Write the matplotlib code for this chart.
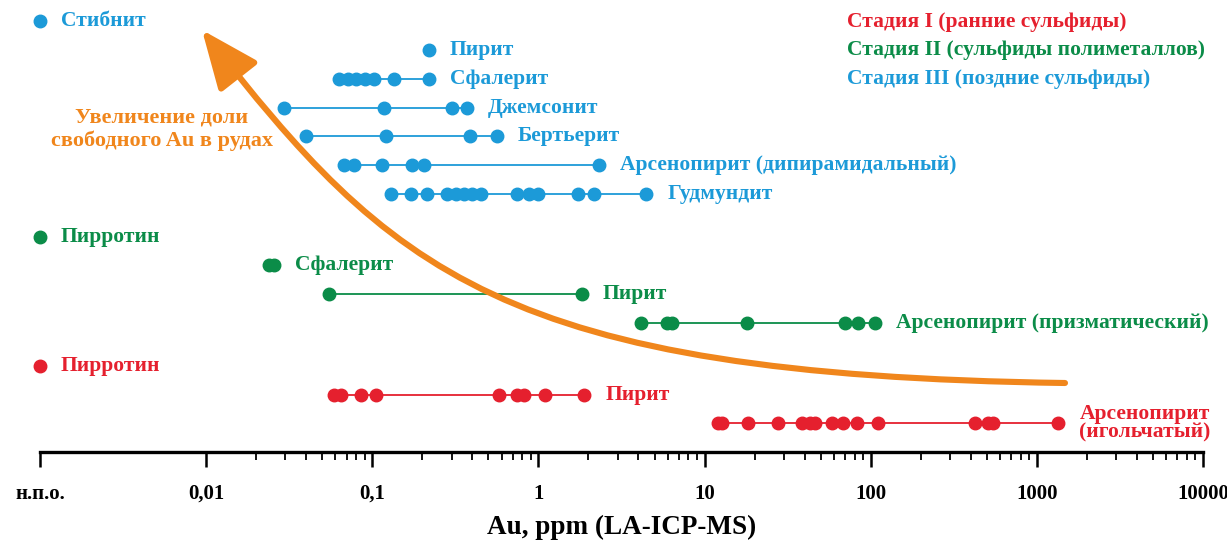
import matplotlib
matplotlib.use('Agg')
import matplotlib.pyplot as plt
from matplotlib.path import Path
from matplotlib.patches import FancyArrowPatch

plt.rcParams['font.family'] = ['Liberation Serif', 'DejaVu Serif']

# colours of the three stages
RED = '#e5202e'
GREEN = '#0b8c48'
BLUE = '#1c9ad8'
ORANGE = '#f0861c'

ND = 0.001  # "н.п.о." (below detection) sits at the left end of the axis

# stage III (blue)
blue_names = ['Стибнит', 'Пирит', 'Сфалерит', 'Джемсонит', 'Бертьерит',
              'Арсенопирит (дипирамидальный)', 'Гудмундит']
blue_levels = [15, 14, 13, 12, 11, 10, 9]
blue_values = [
    [ND],
    [0.22],
    [0.063, 0.071, 0.080, 0.091, 0.103, 0.136, 0.22],
    [0.0295, 0.118, 0.30, 0.37],
    [0.040, 0.121, 0.39, 0.56],
    [0.068, 0.078, 0.115, 0.174, 0.206, 2.33],
    [0.130, 0.172, 0.214, 0.283, 0.321, 0.358, 0.40, 0.454, 0.747, 0.88,
     0.99, 1.72, 2.17, 4.47],
]

# stage II (green)
green_names = ['Пирротин', 'Сфалерит', 'Пирит', 'Арсенопирит (призматический)']
green_levels = [7.5, 6.5, 5.5, 4.5]
green_values = [
    [ND],
    [0.0240, 0.0255],
    [0.055, 1.82],
    [4.17, 5.9, 6.4, 17.9, 69.7, 83.5, 105.7],
]

# stage I (red)
red_names = ['Пирротин', 'Пирит', 'Арсенопирит\n(игольчатый)']
red_levels = [3, 2, 1]
red_values = [
    [ND],
    [0.059, 0.065, 0.086, 0.106, 0.58, 0.74, 0.82, 1.09, 1.89],
    [12.0, 12.8, 18.2, 27.5, 38.4, 42.9, 46.0, 58.2, 67.8, 82.3, 110,
     423, 507, 543, 1340],
]

tick_vals = [0.001, 0.01, 0.1, 1, 10, 100, 1000, 10000]
tick_labels = ['н.п.о.', '0,01', '0,1', '1', '10', '100', '1000', '10000']

stage_labels = ['Стадия I (ранние сульфиды)',
                'Стадия II (сульфиды полиметаллов)',
                'Стадия III (поздние сульфиды)']
stage_colors = [RED, GREEN, BLUE]

FS = 15.5  # label font size

W, H = 1227, 544
fig = plt.figure(figsize=(W / 100, H / 100), dpi=100)
ax = fig.add_axes([40 / W, (H - 452) / H, (1203 - 40) / W, 452 / H])
ax.set_xscale('log')
ax.set_xlim(0.001, 10000)
ax.set_ylim(0, 452 / 28.7)

for sp in ['top', 'right', 'left']:
    ax.spines[sp].set_visible(False)
ax.spines['bottom'].set_linewidth(2.4)
ax.set_yticks([])

ax.set_xticks(tick_vals)
ax.set_xticklabels(tick_labels, fontsize=15, fontweight='bold')
minor = [k * 10.0 ** d for d in range(-2, 4) for k in range(2, 10)]
ax.set_xticks(minor, minor=True)
ax.xaxis.set_minor_formatter(plt.NullFormatter())
ax.tick_params(axis='x', which='major', length=11, width=1.8, pad=12)
ax.tick_params(axis='x', which='minor', length=6, width=1.3)
ax.set_xlabel('Au, ppm (LA-ICP-MS)', fontsize=19.5, fontweight='bold',
              labelpad=8)

# orange arrow (drawn in figure pixels, y from the top)
pts = [(1065, 383), (500, 375), (390, 270), (202, 30)]
pts = [(x / W, 1 - y / H) for x, y in pts]
curve = Path(pts, [Path.MOVETO, Path.CURVE4, Path.CURVE4, Path.CURVE4])
arrow = FancyArrowPatch(path=curve, transform=fig.transFigure,
                        arrowstyle='-|>,head_length=1.0,head_width=0.42',
                        mutation_scale=36, color=ORANGE, lw=4.4,
                        zorder=1)
fig.patches.append(arrow)
fig.text(162 / W, 1 - 129 / H, 'Увеличение доли\nсвободного Au в рудах',
         color=ORANGE, fontsize=16, fontweight='bold', ha='center',
         va='center', multialignment='center', linespacing=1.2)

groups = [(blue_names, blue_levels, blue_values, BLUE),
          (green_names, green_levels, green_values, GREEN),
          (red_names, red_levels, red_values, RED)]
for names, levels, values, col in groups:
    for name, lev, vals in zip(names, levels, values):
        ax.plot(vals, [lev] * len(vals), '-o', color=col, lw=1.3, ms=9,
                mec=col, clip_on=False, zorder=3)
        ax.annotate(name, (max(vals), lev), xytext=(15, 0),
                    textcoords='offset points', ha='left', va='center',
                    color=col, fontsize=FS, fontweight='bold',
                    multialignment='center', linespacing=0.85,
                    annotation_clip=False)

for i, (lab, col) in enumerate(zip(stage_labels, stage_colors)):
    fig.text(847 / W, 1 - (22 + 28.5 * i) / H, lab, color=col,
             fontsize=FS, fontweight='bold', ha='left', va='center')

fig.savefig('out.png', dpi=100)
